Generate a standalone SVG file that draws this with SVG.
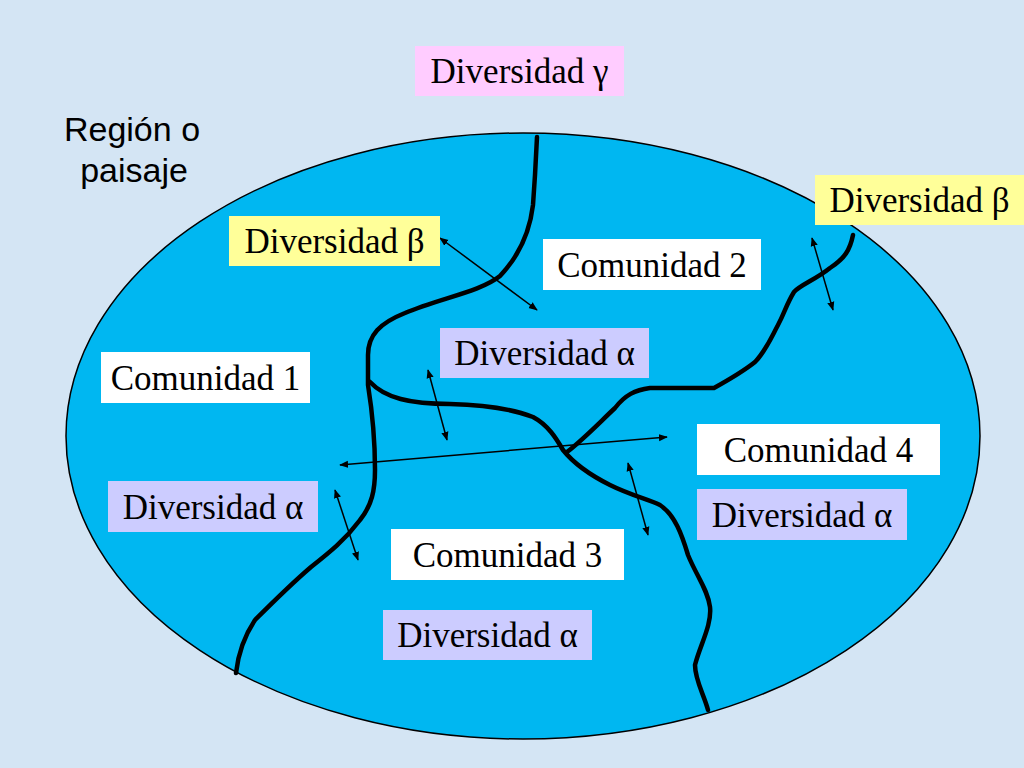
<svg xmlns="http://www.w3.org/2000/svg" width="1024" height="768" viewBox="0 0 1024 768">
<defs>
<marker id="ah" viewBox="0 0 10 10" refX="9" refY="5" markerWidth="9" markerHeight="9" markerUnits="userSpaceOnUse" orient="auto-start-reverse">
<path d="M0,1 L10,5 L0,9 Z" fill="#000"/>
</marker>
<style>
.t{font-family:"Liberation Serif","Times New Roman",serif;font-size:35px;fill:#000;text-anchor:middle}
.s{font-family:"Liberation Sans",Arial,sans-serif;font-size:34px;fill:#000;text-anchor:middle}
.river{fill:none;stroke:#000;stroke-width:4.5;stroke-linecap:round;stroke-linejoin:round}
.arr{fill:none;stroke:#000;stroke-width:1.5;marker-start:url(#ah);marker-end:url(#ah)}
.w{fill:#FFFFFF}.y{fill:#FFFF99}.p{fill:#FFCCFF}.l{fill:#CCCCFF}
</style>
</defs>
<rect x="0" y="0" width="1024" height="768" fill="#D4E5F4"/>
<g id="region">
<ellipse cx="523" cy="436" rx="457" ry="303" fill="#00B7F1" stroke="#000" stroke-width="1.5"/>
</g>
<g id="rivers">
<path class="river" d="M537,137 L535,175 L533,205 C530,230 520,255 500,276 C480,292 440,298 405,313 C380,323 368,335 368,355 L368,385 C372,410 375,440 375,470 C375,490 372,505 360,520 C345,540 330,552 311,567 C290,585 270,605 255,620 C245,635 238,655 236,673"/>
<path class="river" d="M370,382 C385,398 410,404 450,404 C490,405 515,410 533,417 C548,425 556,438 563,450 C575,465 590,475 610,485 C630,495 650,500 660,505 C675,515 682,535 688,555 C696,575 708,590 710,607 C712,625 700,645 695,665 C695,680 704,695 708,710"/>
<path class="river" d="M853,235 C850,250 845,258 830,268 C815,280 800,285 794,292 C786,305 785,312 778,325 C770,340 765,352 755,362 C745,370 732,378 714,388 L650,388 C635,390 625,395 615,408 C600,422 585,438 567,452"/>
</g>
<g id="connectors">
<line class="arr" x1="440" y1="238" x2="537" y2="310"/>
<line class="arr" x1="428" y1="370" x2="447" y2="440"/>
<line class="arr" x1="340" y1="465" x2="667" y2="437"/>
<line class="arr" x1="335" y1="490" x2="358" y2="560"/>
<line class="arr" x1="628" y1="463" x2="648" y2="535"/>
<line class="arr" x1="812" y1="238" x2="833" y2="310"/>
</g>
<g id="label-region">
<text class="s" x="132" y="141">Región o</text>
<text class="s" x="134" y="182">paisaje</text>
</g>
<g id="div-gamma"><rect class="p" x="415" y="46" width="209" height="50"/><text class="t" x="519.5" y="83">Diversidad γ</text></g>
<g id="div-beta-left"><rect class="y" x="229" y="216" width="211" height="50"/><text class="t" x="334.5" y="253">Diversidad β</text></g>
<g id="div-beta-right"><rect class="y" x="815" y="175" width="209" height="50"/><text class="t" x="919.5" y="212">Diversidad β</text></g>
<g id="com-2"><rect class="w" x="543" y="239" width="218" height="51"/><text class="t" x="652" y="277">Comunidad 2</text></g>
<g id="div-alpha-center"><rect class="l" x="440" y="328" width="209" height="50"/><text class="t" x="544.5" y="365">Diversidad α</text></g>
<g id="com-1"><rect class="w" x="101" y="352" width="209" height="51"/><text class="t" x="205.5" y="390">Comunidad 1</text></g>
<g id="com-4"><rect class="w" x="697" y="424" width="243" height="51"/><text class="t" x="818.5" y="462">Comunidad 4</text></g>
<g id="div-alpha-right"><rect class="l" x="697" y="489" width="210" height="51"/><text class="t" x="802" y="527">Diversidad α</text></g>
<g id="div-alpha-left"><rect class="l" x="108" y="481" width="210" height="51"/><text class="t" x="213" y="519">Diversidad α</text></g>
<g id="com-3"><rect class="w" x="391" y="529" width="233" height="51"/><text class="t" x="507.5" y="567">Comunidad 3</text></g>
<g id="div-alpha-bottom"><rect class="l" x="383" y="610" width="209" height="50"/><text class="t" x="487.5" y="647">Diversidad α</text></g>
</svg>
